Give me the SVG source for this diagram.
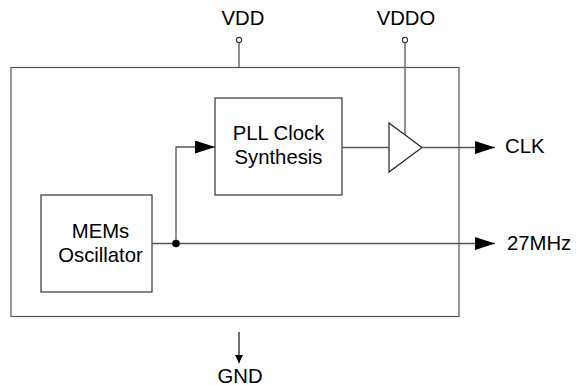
<svg xmlns="http://www.w3.org/2000/svg" width="582" height="385" viewBox="0 0 582 385">
<defs>
<style>
.box{fill:#fff;stroke:#333;stroke-width:1.2}
.ln{fill:none;stroke:#555;stroke-width:1.3}
.t{font-family:"Liberation Sans",Arial,sans-serif;font-size:20.3px;fill:#000}
.c{text-anchor:middle}
</style>
<marker id="ah" markerWidth="20" markerHeight="13" refX="20" refY="6.5" orient="auto" markerUnits="userSpaceOnUse">
<path d="M0,0 L20,6.5 L0,13 Z" fill="#000"/>
</marker>
<marker id="ahs" markerWidth="8" markerHeight="8" refX="8" refY="4" orient="auto" markerUnits="userSpaceOnUse">
<path d="M0,0 L8,4 L0,8 Z" fill="#000"/>
</marker>
</defs>
<rect width="582" height="385" fill="#fff"/>
<g id="chip"><rect class="box" x="11" y="67.5" width="448" height="249" style="stroke:#555"/></g>
<g id="pll"><rect class="box" x="215" y="98" width="127" height="97"/>
<text class="t c" x="278.5" y="140">PLL Clock</text>
<text class="t c" x="278.5" y="164">Synthesis</text></g>
<g id="mems"><rect class="box" x="41" y="195" width="111" height="97"/>
<text class="t c" x="100.5" y="237.5">MEMs</text>
<text class="t c" x="100.5" y="261.5">Oscillator</text></g>
<g id="buffer"><polygon points="389,123 389,172 422,147.5" fill="#fff" stroke="#222" stroke-width="1.2"/></g>
<g id="vdd"><circle cx="239" cy="40" r="2.6" fill="#fff" stroke="#333" stroke-width="1.1"/>
<text class="t c" x="243" y="25">VDD</text></g>
<g id="vddo"><circle cx="405" cy="40" r="2.6" fill="#fff" stroke="#333" stroke-width="1.1"/>
<text class="t c" x="406" y="25">VDDO</text></g>
<g id="clk"><text class="t" x="505" y="152.5">CLK</text></g>
<g id="out27"><text class="t" x="507" y="250">27MHz</text></g>
<g id="gnd"><text class="t c" x="240" y="382.5">GND</text></g>
<g id="connectors">
<line class="ln" x1="239" y1="42.6" x2="239" y2="67.5"/>
<line class="ln" x1="405" y1="42.6" x2="405" y2="135"/>
<line class="ln" x1="342" y1="147.5" x2="389" y2="147.5"/>
<line class="ln" x1="422" y1="147.5" x2="495" y2="147.5" marker-end="url(#ah)"/>
<line class="ln" x1="152" y1="243.5" x2="495" y2="243.5" marker-end="url(#ah)"/>
<polyline class="ln" points="176,243.5 176,147 215,147" marker-end="url(#ah)"/>
<circle cx="176" cy="243.5" r="3.8" fill="#000"/>
<line class="ln" x1="239" y1="332" x2="239" y2="363" style="stroke:#222" marker-end="url(#ahs)"/>
</g>
</svg>
